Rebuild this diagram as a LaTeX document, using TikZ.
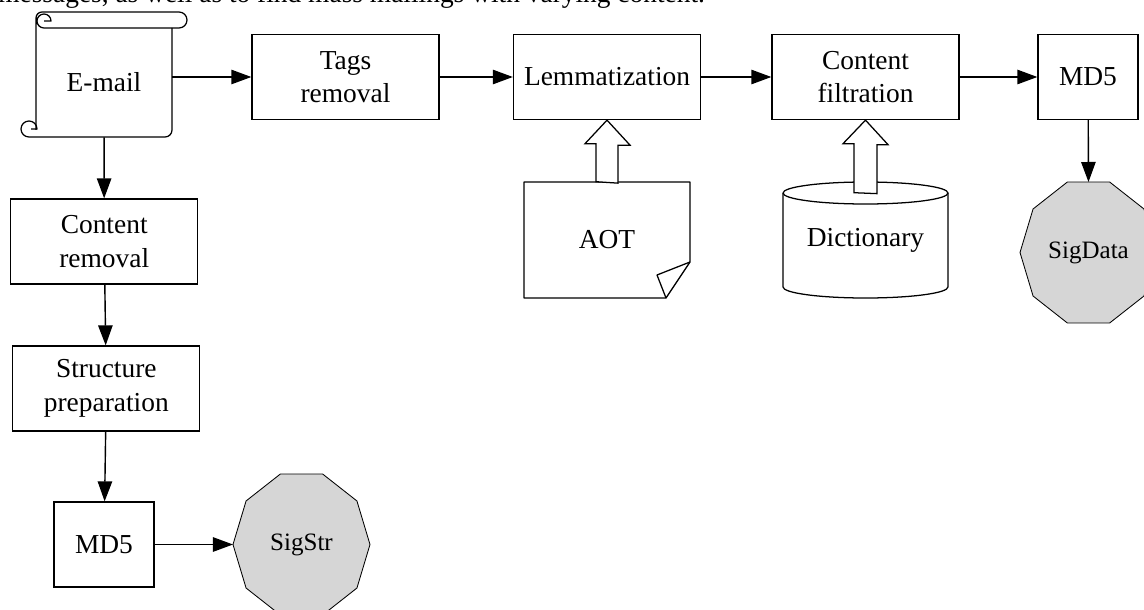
\documentclass[tikz,border=0pt]{standalone}
\usepackage{fontspec}
\setmainfont{Liberation Serif}
\usetikzlibrary{calc, arrows.meta}

\definecolor{siggray}{HTML}{D6D6D6}

\tikzset{
  stage/.style={draw, line width=0.9pt, minimum width=4.675cm, minimum height=2.125cm,
    inner sep=0pt, align=center, font=\fontsize{19.5}{23.7}\selectfont},
  flow/.style={line width=1pt, -{Triangle[length=0.5cm, width=0.36cm]}},
  outline/.style={line width=0.9pt, line join=round},
  bigarrow/.style={draw, line width=0.9pt, fill=white},
  signature/.style={draw, line width=0.6pt, fill=siggray},
  sigtext/.style={font=\fontsize{17.8}{21}\selectfont},
}

\begin{document}
\begin{tikzpicture}[x=0.025cm, y=-0.025cm]
    \useasboundingbox (0,0) rectangle (1144,610);
    \clip (0,0) rectangle (1144,610);

    \node[anchor=base west, inner sep=0pt, font=\fontsize{19.5}{23.7}\selectfont] (caption) at (-2,3)
        {messages, as well as to find mass mailings with varying content.};

    % e-mail scroll
    \node[minimum width=3.4cm, minimum height=2.725cm, inner sep=0pt,
          font=\fontsize{19.5}{23.7}\selectfont] (email) at (104,82.5) {E-mail};
    \draw[outline] (36,130) -- (36,18) arc[start angle=180, end angle=270, radius=6]
        -- (179,12) arc[start angle=-90, end angle=90, radius=8]
        -- (44,28) arc[start angle=90, end angle=360, radius=7] -- (44,21);
    \draw[outline] (172,28) -- (172,130) arc[start angle=0, end angle=90, radius=7]
        -- (29,137) arc[start angle=90, end angle=360, radius=8] -- (31,129);

    % upper row
    \node[stage] (tags) at (345.5,77) {Tags\\removal};
    \node[stage] (lemma) at (607,77) {Lemmatization};
    \node[stage] (filter) at (865.5,77) {Content\\filtration};
    \node[stage, minimum width=2.5cm] (hashdata) at (1088,77) {MD5};

    % left column
    \node[stage] (strip) at (104.2,241.5) {Content\\removal};
    \node[stage] (struct) at (106.3,388.5) {Structure\\preparation};
    \node[stage, minimum width=2.5cm] (hashstr) at (104,544.5) {MD5};

    % AOT note
    \draw[outline] (524,182) -- (690,182) -- (690,262) -- (666,298) -- (524,298) -- cycle;
    \draw[outline] (690,262) -- (657,275) -- (666,298);
    \node[minimum width=4.15cm, minimum height=2.9cm, inner sep=0pt,
          font=\fontsize{19.5}{23.7}\selectfont] (aot) at (607,240) {AOT};

    % dictionary
    \draw[outline, fill=white] (783,193) -- (783,287)
        arc[start angle=180, end angle=0, x radius=82.5, y radius=11] -- (948,193);
    \draw[outline] (865.5,193) ellipse[x radius=82.5, y radius=11];
    \node[minimum width=4.125cm, minimum height=2.9cm, inner sep=0pt,
          font=\fontsize{19.5}{23.7}\selectfont] (dict) at (865.5,240) {Dictionary};

    % signatures
    \foreach \cx/\cy/\nm/\txt in {1088.5/252.5/sigdata/SigData, 301.5/544.5/sigstr/SigStr} {
        \filldraw[signature] (\cx,\cy) ++(0:68.5 and 74.1)
            \foreach \a in {36,72,...,324} { -- ($(\cx,\cy)+(\a:68.5 and 74.1)$) } -- cycle;
        \node[sigtext] (\nm) at (\cx,\cy) {\txt};
    }
    \coordinate (sigdata-top) at ($(sigdata)+(0,-70.5)$);
    \coordinate (sigstr-west) at ($(sigstr)+(-68.5,0)$);

    % block arrows
    \draw[bigarrow] (aot.north) ++(-11,0) -- ++(0,-38) -- ++(-11,0) -- (lemma.south)
        -- ++(23,25) -- ++(-12,0) -- ++(0,38) -- cycle;
    \draw[bigarrow] (dict.north) ++(-11.5,11) -- ++(0,-49) -- ++(-11,0) -- (filter.south)
        -- ++(22.5,24.5) -- ++(-11,0) -- ++(0,49) -- cycle;

    % connectors
    \draw[flow] (tags.west -| email.east) -- (tags.west);
    \draw[flow] (tags) -- (lemma);
    \draw[flow] (lemma) -- (filter);
    \draw[flow] (filter) -- (hashdata);
    \draw[flow] (hashdata) -- (sigdata-top);
    \draw[flow] (email) -- (strip);
    \draw[flow] (strip) -- (struct);
    \draw[flow] (struct) -- (hashstr);
    \draw[flow] (hashstr) -- (sigstr-west);
\end{tikzpicture}
\end{document}
